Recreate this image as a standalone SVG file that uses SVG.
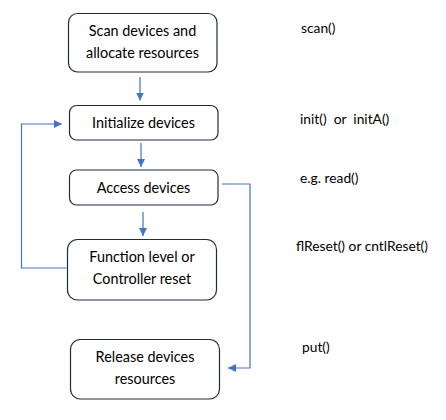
<svg xmlns="http://www.w3.org/2000/svg" width="446" height="420" viewBox="0 0 446 420">
<defs>
<style>
.box{fill:#fff;stroke:#1f2a44;stroke-width:1.2}
.t{font-family:Lato,"Open Sans",sans-serif;font-size:14.4px;fill:#000;text-anchor:middle}
.l{font-family:Lato,"Open Sans",sans-serif;font-size:13.8px;fill:#000}
.c{fill:none;stroke:#4472c4;stroke-width:1.2}
</style>
<marker id="ah" viewBox="0 0 10 10" refX="10" refY="5" markerWidth="8" markerHeight="8" markerUnits="userSpaceOnUse" orient="auto">
<path d="M0,0 L10,5 L0,10 z" fill="#4472c4"/>
</marker>
</defs>
<rect width="446" height="420" fill="#fff"/>
<g id="connectors">
<path class="c" d="M140,77 V100.5" marker-end="url(#ah)"/>
<path class="c" d="M141,143 V167" marker-end="url(#ah)"/>
<path class="c" d="M143,212 V236" marker-end="url(#ah)"/>
<path class="c" d="M66.5,268 H21.5 V124 H62" marker-end="url(#ah)"/>
<path class="c" d="M222,184 H250 V368 H228" marker-end="url(#ah)"/>
</g>
<g id="scan">
<rect class="box" x="68.5" y="13.5" width="148.5" height="58.5" rx="9"/>
<text class="t" x="142.5" y="36">Scan devices and</text>
<text class="t" x="142.5" y="58">allocate resources</text>
</g>
<g id="init">
<rect class="box" x="69.5" y="105.5" width="148.5" height="34.5" rx="7"/>
<text class="t" x="143.5" y="128">Initialize devices</text>
</g>
<g id="access">
<rect class="box" x="69.5" y="170" width="148.5" height="35" rx="7"/>
<text class="t" x="143.5" y="193">Access devices</text>
</g>
<g id="reset">
<rect class="box" x="67.5" y="239.5" width="149" height="60.5" rx="10"/>
<text class="t" x="142" y="262">Function level or</text>
<text class="t" x="142" y="284">Controller reset</text>
</g>
<g id="release">
<rect class="box" x="70.5" y="339.5" width="149" height="59.5" rx="10"/>
<text class="t" x="145" y="362">Release devices</text>
<text class="t" x="145" y="384">resources</text>
</g>
<g id="labels">
<text class="l" x="301" y="33">scan()</text>
<text class="l" x="300" y="124" xml:space="preserve">init()  or  initA()</text>
<text class="l" x="300" y="183">e.g. read()</text>
<text class="l" x="296" y="251">flReset() or cntlReset()</text>
<text class="l" x="302" y="352">put()</text>
</g>
</svg>
